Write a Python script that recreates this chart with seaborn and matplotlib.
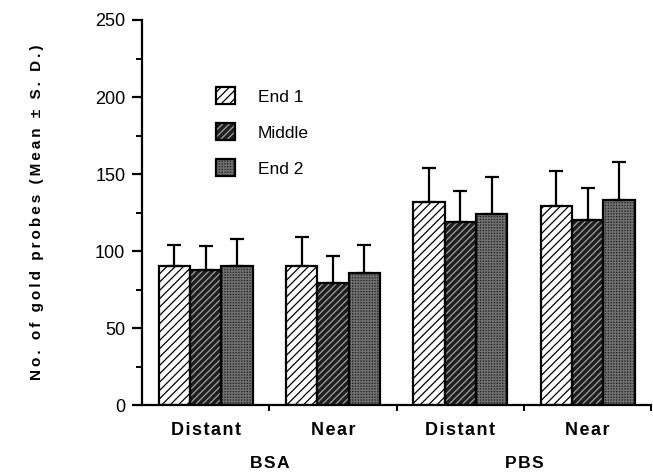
import matplotlib
matplotlib.use("Agg")
import matplotlib.pyplot as plt
from matplotlib.patches import Patch, Rectangle
from matplotlib.ticker import MultipleLocator, FixedLocator
import numpy as np
import pandas as pd
import seaborn as sns

# Data (mean and upper S.D.)
treatments = ["BSA", "BSA", "PBS", "PBS"]
positions = ["Distant", "Near", "Distant", "Near"]
segments = ["End 1", "Middle", "End 2"]

end1_mean = [90, 90, 132, 129]
middle_mean = [88, 79, 119, 120]
end2_mean = [90, 86, 124, 133]

end1_sd = [14, 19, 22, 23]
middle_sd = [15, 18, 20, 21]
end2_sd = [18, 18, 24, 25]

HAIR = "\u200a"


def spaced(s, gap=HAIR):
    # poor man's letter tracking
    return gap.join(s)


sns.set_style("ticks")
plt.rcParams["font.family"] = ["Liberation Sans", "DejaVu Sans"]
plt.rcParams["hatch.linewidth"] = 0.9
for k in ("text.color", "axes.labelcolor", "xtick.color", "ytick.color",
          "axes.edgecolor"):
    plt.rcParams[k] = "black"

groups = [f"{t} {p}" for t, p in zip(treatments, positions)]
df = pd.DataFrame({
    "group": groups * 3,
    "segment": np.repeat(segments, len(groups)),
    "value": end1_mean + middle_mean + end2_mean,
})
sds = [end1_sd, middle_sd, end2_sd]

# face, hatch colour, hatch pattern for each segment
styles = [("white", "black", "////"),
          ("#1e1e1e", "#a0a0a0", "/////"),
          ("#2a2a2a", "#707070", "++++++")]

fig = plt.figure(figsize=(6.53, 4.76), dpi=100)
ax = fig.add_axes([0.2175, 0.149, 0.78, 0.809])

sns.barplot(data=df, x="group", y="value", hue="segment", order=groups,
            hue_order=segments, width=0.74, errorbar=None, ax=ax,
            legend=False)

for cont, (face, hcol, hatch), sd in zip(ax.containers, styles, sds):
    xs, ys = [], []
    for p in cont.patches:
        p.set_facecolor(face)
        p.set_edgecolor(hcol)
        p.set_hatch(hatch)
        p.set_linewidth(0)
        # black outline on top of the hatched fill
        ax.add_patch(Rectangle(p.get_xy(), p.get_width(), p.get_height(),
                               fill=False, edgecolor="black", lw=1.6,
                               zorder=3))
        xs.append(p.get_x() + p.get_width() / 2)
        ys.append(p.get_height())
    ax.errorbar(xs, ys, yerr=[np.zeros(len(sd)), sd], fmt="none",
                ecolor="black", elinewidth=1.6, capsize=5, capthick=1.6,
                zorder=2)

ax.set_xlim(-0.5, 3.5)
ax.set_ylim(0, 250)
ax.yaxis.set_major_locator(MultipleLocator(50))
ax.yaxis.set_minor_locator(MultipleLocator(25))
ax.xaxis.set_minor_locator(FixedLocator([0.5, 1.5, 2.5, 3.5]))
ax.set_xticks(range(len(groups)))
ax.set_xticklabels([spaced(p) for p in positions], fontsize=13,
                   fontweight="bold")
ax.tick_params(axis="x", which="major", length=0, pad=12)
ax.tick_params(axis="x", which="minor", length=4, width=1.4, direction="out")
ax.tick_params(axis="y", which="major", length=7, width=1.6, labelsize=13,
               pad=5)
ax.tick_params(axis="y", which="minor", length=4, width=1.4)

sns.despine(ax=ax)
for s in ("left", "bottom"):
    ax.spines[s].set_linewidth(1.6)

ax.set_xlabel("")
ax.set_ylabel(spaced("No. of gold probes (Mean ± S. D.)", "\u2009"),
              fontsize=11, fontweight="bold", labelpad=37)

# treatment labels under each pair of positions
for i in range(0, len(treatments), 2):
    ax.text(i + 0.5, -0.152, spaced(treatments[i]),
            transform=ax.get_xaxis_transform(),
            ha="center", va="center", fontsize=12.5, fontweight="bold")

handles = [(Patch(facecolor=f, edgecolor=h, hatch=ht, lw=0),
            Patch(fill=False, edgecolor="black", lw=1.6))
           for f, h, ht in styles]
ax.legend(handles, segments, loc="upper left",
          bbox_to_anchor=(0.146, 0.825), frameon=False, borderpad=0,
          borderaxespad=0, handlelength=1.1, handleheight=1.1,
          handletextpad=1.3, labelspacing=1.08, fontsize=12.5)

fig.savefig("out.png", dpi=100)
